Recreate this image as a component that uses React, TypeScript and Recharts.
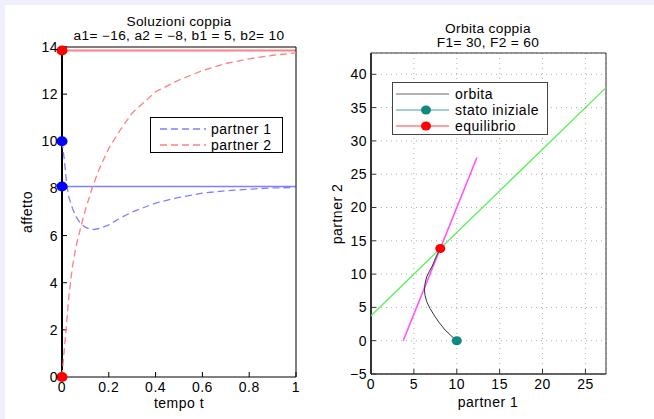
import React from "react";
import {
  ScatterChart,
  Scatter,
  XAxis,
  YAxis,
  CartesianGrid,
  ReferenceLine,
  Legend,
} from "recharts";

// time solution (left panel)
const tempo = [0, 0.01, 0.02, 0.03, 0.045, 0.06, 0.08, 0.1, 0.13, 0.16, 0.2, 0.25, 0.3, 0.4, 0.5, 0.6, 0.7, 0.8, 0.9, 1];
const partner1 = [10, 9.2, 8.2, 7.6, 7.15, 6.8, 6.5, 6.35, 6.25, 6.3, 6.45, 6.75, 7.0, 7.38, 7.62, 7.8, 7.9, 7.97, 8.02, 8.04];
const partner2 = [0, 1.2, 2.3, 3.5, 4.7, 5.55, 6.35, 7.1, 8.05, 8.85, 9.7, 10.5, 11.2, 12.1, 12.6, 13.0, 13.3, 13.5, 13.65, 13.75];
const equilibrio = [8.08, 13.85];
const statoIniziale = [10, 0];

const tempoTicks = [0, 0.2, 0.4, 0.6, 0.8, 1];
const affettoTicks = [0, 2, 4, 6, 8, 10, 12, 14];

// orbit (right panel)
const orbitaX1 = [10, 9.3, 8.64, 7.9, 7.48, 6.9, 6.5, 6.3, 6.23, 6.3, 6.5, 6.8, 7.1, 7.4, 7.67, 7.9, 8.08];
const orbitaX2 = [0, 0.8, 1.6, 2.8, 3.6, 4.8, 5.85, 6.8, 7.6, 8.6, 9.6, 10.4, 11.1, 12.0, 12.85, 13.4, 13.85];
const isoclina1X = [3.75, 12.35];
const isoclina1Y = [0, 27.5];
const isoclina2X = [0, 27.4];
const isoclina2Y = [3.75, 38.0];

const p1Ticks = [0, 5, 10, 15, 20, 25];
const p2Ticks = [-5, 0, 5, 10, 15, 20, 25, 30, 35, 40];

const FONT = '"Liberation Sans", Arial, Helvetica, sans-serif';
const tickStyle = { fill: "#000", fontSize: 14, fontFamily: FONT, letterSpacing: 0.5 };
const minus = (v: number) => (v < 0 ? "\u2212" + Math.abs(v) : String(v));
const blank = () => "";

const noDot = () => <g />;
const dot = (fill: string, r = 5.5) => (p: any) => (
  <ellipse cx={p.cx} cy={p.cy} rx={r} ry={r - 0.5} fill={fill} />
);

const zip = (xs: number[], ys: number[]) => xs.map((x, i) => ({ x, y: ys[i] }));

const LegendLeft = () => (
  <div style={{ width: 133, height: 36, border: "1px solid #000", background: "#fff", boxSizing: "border-box", fontFamily: FONT, fontSize: 14, letterSpacing: 0.5 }}>
    <svg width={131} height={34}>
      <line x1={9} x2={55} y1={11} y2={11} stroke="#8080ff" strokeWidth={1.3} strokeDasharray="7 4" />
      <text x={60} y={16} fill="#000">partner 1</text>
      <line x1={9} x2={55} y1={27} y2={27} stroke="#ff8080" strokeWidth={1.3} strokeDasharray="7 4" />
      <text x={60} y={32} fill="#000">partner 2</text>
    </svg>
  </div>
);

const LegendRight = () => (
  <div style={{ width: 156, height: 53, border: "1px solid #444", background: "#fff", boxSizing: "border-box", fontFamily: FONT, fontSize: 14, letterSpacing: 0.5 }}>
    <svg width={154} height={51}>
      <line x1={3} x2={56} y1={11} y2={11} stroke="#666" strokeWidth={1} />
      <text x={62} y={16} fill="#000">orbita</text>
      <line x1={3} x2={56} y1={27} y2={27} stroke="#80c0c0" strokeWidth={1.3} />
      <ellipse cx={33} cy={27} rx={5} ry={4.5} fill="#108a80" />
      <text x={62} y={32} fill="#000">stato iniziale</text>
      <line x1={3} x2={56} y1={43} y2={43} stroke="#ff8080" strokeWidth={1.3} />
      <ellipse cx={33} cy={43} rx={5} ry={4.5} fill="#ff0000" />
      <text x={62} y={48} fill="#000">equilibrio</text>
    </svg>
  </div>
);

const textAbs = (left: number, top: number, s: string, extra: any = {}) => (
  <div style={{ position: "absolute", left, top, transform: "translate(-50%, -50%)", whiteSpace: "nowrap", fontFamily: FONT, fontSize: 14, letterSpacing: 0.5, color: "#000", lineHeight: "14px", ...extra }}>
    {s}
  </div>
);

const titleLine = (left: number, top: number, s: string) => (
  <div style={{ position: "absolute", left, top, transform: "translate(-50%, -50%) scaleX(1.14)", whiteSpace: "nowrap", fontFamily: FONT, fontSize: 12, letterSpacing: 0.3, color: "#000", lineHeight: "12px" }}>
    {s}
  </div>
);

function SoluzioniChart() {
  return (
    <ScatterChart width={330} height={419} margin={{ top: 46, right: 33, bottom: 12, left: 0 }}>
      <XAxis xAxisId="b" type="number" dataKey="x" domain={[0, 1]} ticks={tempoTicks} height={30}
        tick={tickStyle} tickSize={-5} tickMargin={10} stroke="#000" axisLine={{ stroke: "#000" }} />
      <XAxis xAxisId="t" orientation="top" type="number" dataKey="x" domain={[0, 1]} ticks={tempoTicks} height={1}
        tickFormatter={blank} tickSize={-5} stroke="#000" />
      <YAxis yAxisId="l" type="number" dataKey="y" domain={[0, 14]} ticks={affettoTicks} width={62}
        tick={tickStyle} tickSize={-5} tickMargin={9} stroke="#000" axisLine={{ stroke: "#000", strokeWidth: 2 }} />
      <YAxis yAxisId="r" orientation="right" type="number" dataKey="y" domain={[0, 14]} ticks={affettoTicks} width={1}
        tickFormatter={blank} tickSize={-5} stroke="#000" />
      <ReferenceLine xAxisId="b" yAxisId="l" y={equilibrio[0]} stroke="#8080ff" strokeWidth={1.5} />
      <ReferenceLine xAxisId="b" yAxisId="l" y={equilibrio[1]} stroke="#ff8080" strokeWidth={2} />
      <Scatter xAxisId="b" yAxisId="l" data={zip(tempo, partner1)} line={{ stroke: "#8080ff", strokeWidth: 1.3, strokeDasharray: "7 4" }}
        lineType="joint" shape={noDot} fill="#8080ff" isAnimationActive={false} />
      <Scatter xAxisId="b" yAxisId="l" data={zip(tempo, partner2)} line={{ stroke: "#ff8080", strokeWidth: 1.3, strokeDasharray: "7 4" }}
        lineType="joint" shape={noDot} fill="#ff8080" isAnimationActive={false} />
      <Scatter xAxisId="b" yAxisId="l" data={[{ x: 0, y: partner1[0] }, { x: 0, y: equilibrio[0] }]} shape={dot("#0000ff")} isAnimationActive={false} />
      <Scatter xAxisId="b" yAxisId="l" data={[{ x: 0, y: partner2[0] }, { x: 0, y: equilibrio[1] }]} shape={dot("#ff0000")} isAnimationActive={false} />
      <Legend layout="vertical" align="center" verticalAlign="middle" content={LegendLeft}
        wrapperStyle={{ left: 150, top: 117, width: 133, height: 36 }} />
    </ScatterChart>
  );
}

function OrbitaChart() {
  return (
    <ScatterChart width={324} height={419} margin={{ top: 52, right: 47, bottom: 15, left: 0 }}>
      <CartesianGrid xAxisId="b" yAxisId="l" stroke="#b0b0b0" strokeDasharray="1 4" />
      <XAxis xAxisId="b" type="number" dataKey="x" domain={[0, 27.4]} ticks={p1Ticks} height={30}
        tick={tickStyle} tickSize={-5} tickMargin={10} stroke="#333" axisLine={{ stroke: "#333", strokeWidth: 1.5 }} />
      <XAxis xAxisId="t" orientation="top" type="number" dataKey="x" domain={[0, 27.4]} ticks={p1Ticks} height={1}
        tickFormatter={blank} tickSize={-5} stroke="#333" />
      <YAxis yAxisId="l" type="number" dataKey="y" domain={[-5, 43.2]} ticks={p2Ticks} width={41}
        tick={tickStyle} tickFormatter={minus} tickSize={-5} tickMargin={9} stroke="#333" axisLine={{ stroke: "#333", strokeWidth: 2 }} />
      <YAxis yAxisId="r" orientation="right" type="number" dataKey="y" domain={[-5, 43.2]} ticks={p2Ticks} width={1}
        tickFormatter={blank} tickSize={-5} stroke="#333" />
      <Scatter xAxisId="b" yAxisId="l" data={zip(isoclina2X, isoclina2Y)} line={{ stroke: "#55f055", strokeWidth: 1.3 }}
        lineType="joint" shape={noDot} fill="#55f055" isAnimationActive={false} />
      <Scatter xAxisId="b" yAxisId="l" data={zip(isoclina1X, isoclina1Y)} line={{ stroke: "#ff55ff", strokeWidth: 1.6 }}
        lineType="joint" shape={noDot} fill="#ff55ff" isAnimationActive={false} />
      <Scatter xAxisId="b" yAxisId="l" data={zip(orbitaX1, orbitaX2)} line={{ stroke: "#333", strokeWidth: 1 }}
        lineType="joint" shape={noDot} fill="#333" isAnimationActive={false} />
      <Scatter xAxisId="b" yAxisId="l" data={[{ x: statoIniziale[0], y: statoIniziale[1] }]} shape={dot("#108a80", 5)} isAnimationActive={false} />
      <Scatter xAxisId="b" yAxisId="l" data={[{ x: equilibrio[0], y: equilibrio[1] }]} shape={dot("#ff0000", 5)} isAnimationActive={false} />
      <Legend layout="vertical" align="center" verticalAlign="middle" content={LegendRight}
        wrapperStyle={{ left: 62, top: 82, width: 156, height: 53 }} />
    </ScatterChart>
  );
}

export default function App() {
  return (
    <div style={{ position: "absolute", left: 0, top: 0, width: 654, height: 419, background: "#fff", overflow: "hidden" }}>
      <div style={{ position: "absolute", left: 0, top: 0, width: 654, height: 5, background: "#eff0fb" }} />
      <div style={{ position: "absolute", left: 0, top: 0, width: 5, height: 419, background: "#eff0fb" }} />
      <div style={{ position: "absolute", left: 0, top: 0 }}>
        <SoluzioniChart />
      </div>
      <div style={{ position: "absolute", left: 330, top: 0 }}>
        <OrbitaChart />
      </div>
      {titleLine(179, 22, "Soluzioni coppia")}
      {titleLine(179, 36, "a1= \u221216, a2 = \u22128, b1 = 5, b2= 10")}
      {textAbs(179, 403, "tempo t")}
      {textAbs(27, 212, "affetto", { transform: "translate(-50%, -50%) rotate(-90deg)" })}
      {titleLine(488, 29, "Orbita coppia")}
      {titleLine(488, 43, "F1= 30, F2 = 60")}
      {textAbs(488, 402, "partner 1")}
      {textAbs(337, 214, "partner 2", { transform: "translate(-50%, -50%) rotate(-90deg)" })}
    </div>
  );
}
